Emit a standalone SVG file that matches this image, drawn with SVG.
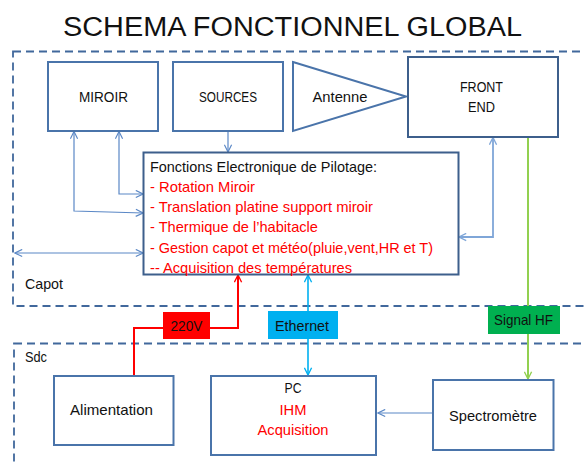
<svg xmlns="http://www.w3.org/2000/svg" width="585" height="466" viewBox="0 0 585 466">
<defs>
<style>
text{font-family:"Liberation Sans",Arial,sans-serif;font-size:15px;fill:#111}
.box{fill:#fff;stroke:#4a74aa;stroke-width:2}
.dark{fill:#fff;stroke:#3d5f8c;stroke-width:2}
.zone{fill:none;stroke:#41689c;stroke-width:1.8;stroke-dasharray:8 5}
.red{fill:#ff0000}
.c{text-anchor:middle}
.conn{fill:none;stroke:#5b88c6;stroke-width:1.2}
</style>
<marker id="ab" viewBox="0 0 10 10" refX="9" refY="5" markerWidth="9" markerHeight="9" markerUnits="userSpaceOnUse" orient="auto-start-reverse"><path d="M1,1 L9,5 L1,9" fill="none" stroke="#5b88c6" stroke-width="1.3"/></marker>
<marker id="al" viewBox="0 0 10 10" refX="9" refY="5" markerWidth="9" markerHeight="9" markerUnits="userSpaceOnUse" orient="auto-start-reverse"><path d="M1,1 L9,5 L1,9" fill="none" stroke="#7fa6d8" stroke-width="1.5"/></marker>
<marker id="ag" viewBox="0 0 10 10" refX="9" refY="5" markerWidth="9" markerHeight="9" markerUnits="userSpaceOnUse" orient="auto-start-reverse"><path d="M1,1 L9,5 L1,9" fill="none" stroke="#92d050" stroke-width="1.5"/></marker>
<marker id="ae" viewBox="0 0 10 10" refX="9" refY="5" markerWidth="9" markerHeight="9" markerUnits="userSpaceOnUse" orient="auto-start-reverse"><path d="M1,1 L9,5 L1,9" fill="none" stroke="#00b0f0" stroke-width="1.5"/></marker>
<marker id="ar" viewBox="0 0 10 10" refX="9" refY="5" markerWidth="9" markerHeight="9" markerUnits="userSpaceOnUse" orient="auto-start-reverse"><path d="M1,1 L9,5 L1,9" fill="none" stroke="#ff0000" stroke-width="1.5"/></marker>
</defs>
<rect width="585" height="466" fill="#fff"/>
<text x="63" y="36" style="font-size:27px" textLength="459" lengthAdjust="spacingAndGlyphs">SCHEMA FONCTIONNEL GLOBAL</text>

<g id="zone-capot">
<rect class="zone" x="13" y="51.5" width="600" height="254.5"/>
<text x="25" y="289" textLength="38" lengthAdjust="spacingAndGlyphs">Capot</text>
</g>
<g id="zone-sdc">
<rect class="zone" x="14" y="343.5" width="600" height="200"/>
<text x="25" y="362" textLength="22" lengthAdjust="spacingAndGlyphs">Sdc</text>
</g>

<g id="connectors">
<path class="conn" d="M228,131 V152" marker-end="url(#ab)"/>
<path class="conn" d="M74,131.5 V211 L143,213" marker-start="url(#ab)" marker-end="url(#ab)"/>
<path class="conn" d="M119,131.5 V194 H143" marker-start="url(#ab)" marker-end="url(#ab)"/>
<path class="conn" d="M15,253 H143" marker-start="url(#ab)" marker-end="url(#ab)"/>
<path d="M493,137.5 V237 H459" fill="none" stroke="#7fa6d8" stroke-width="1.8" marker-start="url(#al)" marker-end="url(#al)"/>
<path d="M528,137.5 V379" fill="none" stroke="#92d050" stroke-width="2" marker-end="url(#ag)"/>
<path d="M308,275 V375" fill="none" stroke="#00b0f0" stroke-width="1.6" marker-start="url(#ae)" marker-end="url(#ae)"/>
<path d="M134,376 V328 H238 V275" fill="none" stroke="#ff0000" stroke-width="2" marker-end="url(#ar)"/>
<path class="conn" d="M432.5,413 H378" marker-end="url(#ab)"/>
<g id="label-220v">
<rect x="163" y="312" width="47" height="27" fill="#ff0000"/>
<text class="c" x="186.5" y="330.5" textLength="32" lengthAdjust="spacingAndGlyphs">220V</text>
</g>
<g id="label-ethernet">
<rect x="268" y="311" width="70" height="28" fill="#00b0f0"/>
<text class="c" x="302" y="330.5" textLength="54" lengthAdjust="spacingAndGlyphs">Ethernet</text>
</g>
<g id="label-signalhf">
<rect x="488" y="306" width="72" height="28" fill="#00b050"/>
<text class="c" x="523.5" y="325" textLength="59" lengthAdjust="spacingAndGlyphs">Signal HF</text>
</g>
</g>

<g id="miroir">
<rect class="box" x="48" y="62" width="110" height="69"/>
<text class="c" x="103.5" y="102" textLength="49" lengthAdjust="spacingAndGlyphs">MIROIR</text>
</g>
<g id="sources">
<rect class="box" x="173" y="62" width="110" height="69"/>
<text class="c" x="228" y="102" textLength="58" lengthAdjust="spacingAndGlyphs">SOURCES</text>
</g>
<g id="antenne">
<polygon points="293,62 406,96.5 293,131" fill="#fff" stroke="#4a74aa" stroke-width="2"/>
<text class="c" x="340" y="102" textLength="55" lengthAdjust="spacingAndGlyphs">Antenne</text>
</g>
<g id="frontend">
<rect class="dark" x="408" y="57" width="150" height="80"/>
<text class="c" x="481.5" y="92" textLength="43" lengthAdjust="spacingAndGlyphs">FRONT</text>
<text class="c" x="481.5" y="112" textLength="27" lengthAdjust="spacingAndGlyphs">END</text>
</g>
<g id="fonctions">
<rect class="dark" x="143.5" y="152.5" width="315" height="122"/>
<text x="150" y="171.5" textLength="227" lengthAdjust="spacingAndGlyphs">Fonctions Electronique de Pilotage:</text>
<text class="red" x="150" y="191.5" textLength="105" lengthAdjust="spacingAndGlyphs">- Rotation Miroir</text>
<text class="red" x="150" y="211.5" textLength="223" lengthAdjust="spacingAndGlyphs">- Translation platine support miroir</text>
<text class="red" x="150" y="231.5" textLength="168" lengthAdjust="spacingAndGlyphs">- Thermique de l’habitacle</text>
<text class="red" x="150" y="252.5" textLength="283" lengthAdjust="spacingAndGlyphs">- Gestion capot et météo(pluie,vent,HR et T)</text>
<text class="red" x="150" y="273" textLength="202" lengthAdjust="spacingAndGlyphs">-- Acquisition des températures</text>
</g>
<g id="alimentation">
<rect class="box" x="54" y="376" width="119.5" height="69"/>
<text class="c" x="111.5" y="415" textLength="83" lengthAdjust="spacingAndGlyphs">Alimentation</text>
</g>
<g id="pc">
<rect class="box" x="211" y="376" width="165" height="79"/>
<text class="c" x="293" y="393" textLength="17" lengthAdjust="spacingAndGlyphs">PC</text>
<text class="c red" x="293" y="415" textLength="27" lengthAdjust="spacingAndGlyphs">IHM</text>
<text class="c red" x="293" y="435" textLength="71" lengthAdjust="spacingAndGlyphs">Acquisition</text>
</g>
<g id="spectrometre">
<rect class="box" x="433" y="380" width="120.5" height="70"/>
<text class="c" x="493" y="420.5" textLength="88" lengthAdjust="spacingAndGlyphs">Spectromètre</text>
</g>
</svg>
